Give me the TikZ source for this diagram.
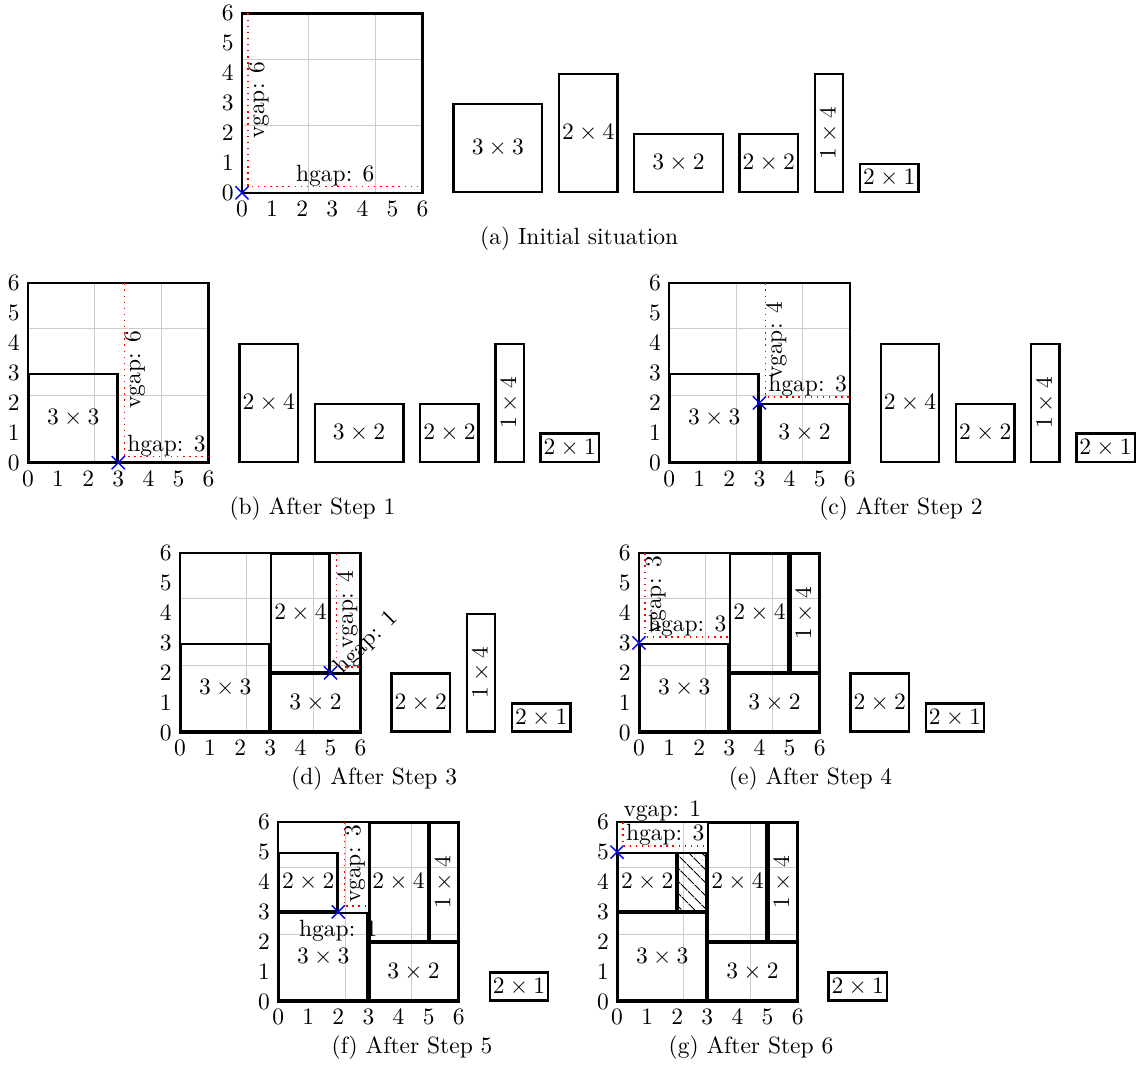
\documentclass[tikz,border=0pt]{standalone}
\usepackage{tikz}
\usetikzlibrary{patterns.meta,shapes.misc}
\tikzset{
  boardline/.style={line width=1pt},
  piece/.style={draw, line width=1pt},
  gapline/.style={red, dotted, line width=0.6pt},
  gaplabel/.style={inner sep=0pt},
  gapmark/.style={cross out, draw=blue, semithick, minimum size=5pt, inner sep=0pt},
  hatched/.style={pattern={Lines[angle=-45,distance=4pt,line width=0.5pt]}},
}
\def\blockinset{0.03}
\newcommand{\board}[1]{%
  \draw[gray!40, line width=0.4pt] (0,0) grid (6,6);
  \foreach \i in {0,...,6} {
    \node[below] (#1x\i) at (\i,0) {$\i$};
    \node[left] (#1y\i) at (0,\i) {$\i$};
  }
  \draw[boardline] (0,0) rectangle (6,6);
}
\newcommand{\block}[6][]{%
  \draw[piece] (#3+\blockinset,#4+\blockinset) rectangle (#3+#5-\blockinset,#4+#6-\blockinset);
  \node[#1] (#2) at (#3+#5/2,#4+#6/2) {$#5\times#6$};
}
\newcommand{\gaps}[5]{%
  \coordinate (#1c) at (#2+0.2,#3+0.2);
  \coordinate (#1v) at (#2+0.2,#3+#5);
  \coordinate (#1h) at (#2+#4,#3+0.2);
  \draw[gapline] (#1v) -- (#1c) -- (#1h);
  \node[gapmark] (#1) at (#2,#3) {};
}

\begin{document}
\begin{tikzpicture}[x=12.81pt,y=12.72pt]
  \useasboundingbox (0,0) rectangle (37.94,35.65);

  \begin{scope}[shift={(8.04,29.20)}]
    \board{a}
    \block{a1}{7}{0}{3}{3}
    \block{a2}{10.5}{0}{2}{4}
    \block{a3}{13}{0}{3}{2}
    \block{a4}{16.5}{0}{2}{2}
    \block[rotate=90]{a5}{19}{0}{1}{4}
    \block{a6}{20.5}{0}{2}{1}
    \gaps{aP}{0}{0}{6}{6}
    \node[gaplabel, rotate=90, anchor=north] (aV) at (0.2,3.1) {vgap: 6};
    \node[gaplabel, above] (aH) at (3.1,0.2) {hgap: 6};
    \node (aCap) at (11.2,-1.54) {(a) Initial situation};
  \end{scope}

  \begin{scope}[shift={(0.93,20.17)}]
    \board{b}
    \block{b1}{0}{0}{3}{3}
    \block{b2}{7}{0}{2}{4}
    \block{b3}{9.5}{0}{3}{2}
    \block{b4}{13}{0}{2}{2}
    \block[rotate=90]{b5}{15.5}{0}{1}{4}
    \block{b6}{17}{0}{2}{1}
    \gaps{bP}{3}{0}{3}{6}
    \node[gaplabel, rotate=90, anchor=north] (bV) at (3.2,3.1) {vgap: 6};
    \node[gaplabel, above] (bH) at (4.6,0.2) {hgap: 3};
    \node (bCap) at (9.45,-1.54) {(b) After Step 1};
  \end{scope}

  \begin{scope}[shift={(22.23,20.17)}]
    \board{c}
    \block{c1}{0}{0}{3}{3}
    \block{c2}{3}{0}{3}{2}
    \block{c3}{7}{0}{2}{4}
    \block{c4}{9.5}{0}{2}{2}
    \block[rotate=90]{c5}{12}{0}{1}{4}
    \block{c6}{13.5}{0}{2}{1}
    \gaps{cP}{3}{2}{3}{4}
    \node[gaplabel, rotate=90, anchor=north] (cV) at (3.2,4.1) {vgap: 4};
    \node[gaplabel, above] (cH) at (4.6,2.2) {hgap: 3};
    \node (cCap) at (7.7,-1.54) {(c) After Step 2};
  \end{scope}

  \begin{scope}[shift={(5.98,11.14)}]
    \board{d}
    \block{d1}{0}{0}{3}{3}
    \block{d2}{3}{0}{3}{2}
    \block{d3}{3}{2}{2}{4}
    \block{d4}{7}{0}{2}{2}
    \block[rotate=90]{d5}{9.5}{0}{1}{4}
    \block{d6}{11}{0}{2}{1}
    \gaps{dP}{5}{2}{1}{4}
    \node[gaplabel, rotate=90, anchor=north] (dV) at (5.2,4.1) {vgap: 4};
    \node[gaplabel, rotate=45] (dH) at (6.2,3.0) {hgap: 1};
    \node (dCap) at (6.45,-1.54) {(d) After Step 3};
  \end{scope}

  \begin{scope}[shift={(21.23,11.14)}]
    \board{e}
    \block{e1}{0}{0}{3}{3}
    \block{e2}{3}{0}{3}{2}
    \block{e3}{3}{2}{2}{4}
    \block[rotate=90]{e4}{5}{2}{1}{4}
    \block{e5}{7}{0}{2}{2}
    \block{e6}{9.5}{0}{2}{1}
    \gaps{eP}{0}{3}{3}{3}
    \node[gaplabel, rotate=90, anchor=north] (eV) at (0.2,4.6) {vgap: 3};
    \node[gaplabel, above] (eH) at (1.6,3.2) {hgap: 3};
    \node (eCap) at (5.7,-1.54) {(e) After Step 4};
  \end{scope}

  \begin{scope}[shift={(9.24,2.14)}]
    \board{f}
    \block{f1}{0}{0}{3}{3}
    \block{f2}{3}{0}{3}{2}
    \block{f3}{3}{2}{2}{4}
    \block[rotate=90]{f4}{5}{2}{1}{4}
    \block{f5}{0}{3}{2}{2}
    \block{f6}{7}{0}{2}{1}
    \gaps{fP}{2}{3}{1}{3}
    \node[gaplabel, rotate=90, anchor=north] (fV) at (2.2,4.6) {vgap: 3};
    \node[below] (fH) at (2,3) {hgap: 1};
    \node (fCap) at (4.45,-1.54) {(f) After Step 5};
  \end{scope}

  \begin{scope}[shift={(20.50,2.14)}]
    \board{g}
    \block{g1}{0}{0}{3}{3}
    \block{g2}{3}{0}{3}{2}
    \block{g3}{3}{2}{2}{4}
    \block[rotate=90]{g4}{5}{2}{1}{4}
    \block{g5}{0}{3}{2}{2}
    \draw[piece, hatched] (2+\blockinset,3+\blockinset) rectangle (3-\blockinset,5-\blockinset);
    \block{g6}{7}{0}{2}{1}
    \gaps{gP}{0}{5}{3}{1}
    \node[gaplabel, above right] (gV) at (0.2,6) {vgap: 1};
    \node[gaplabel, above] (gH) at (1.6,5.2) {hgap: 3};
    \node (gCap) at (4.45,-1.54) {(g) After Step 6};
  \end{scope}
\end{tikzpicture}
\end{document}
